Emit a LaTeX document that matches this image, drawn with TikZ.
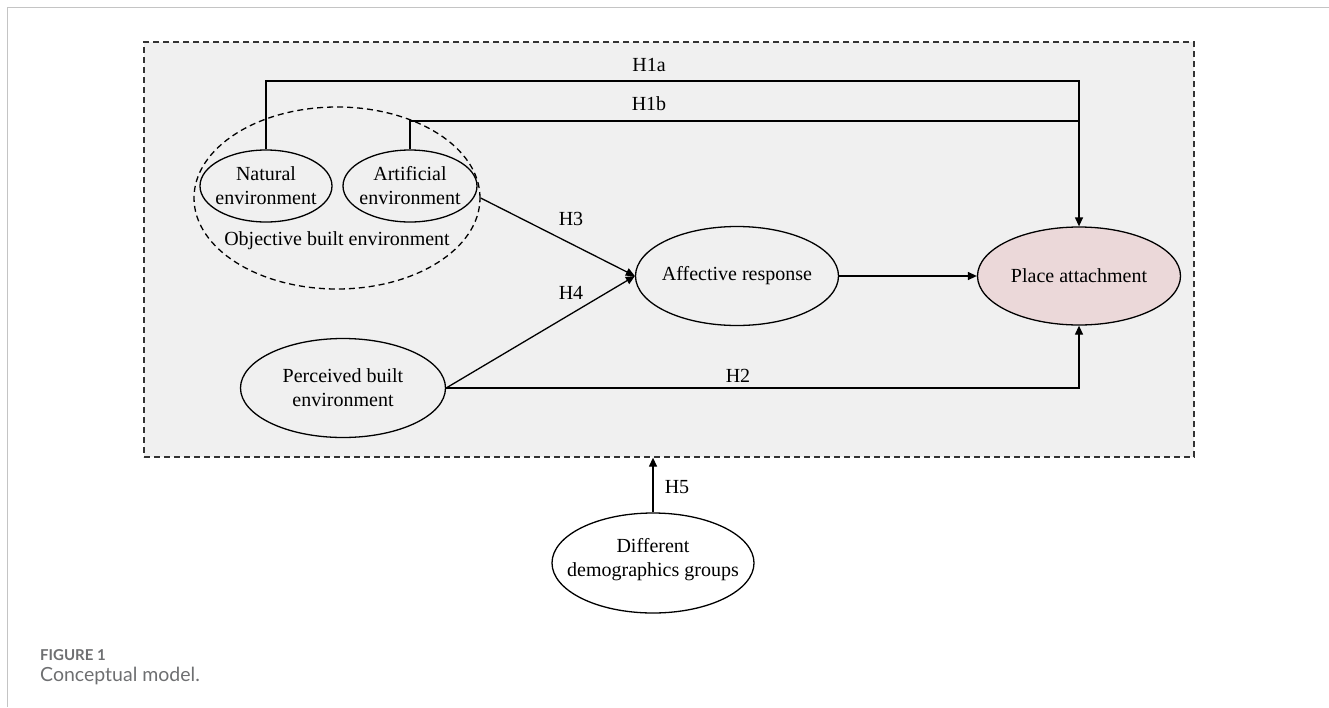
\documentclass[tikz,border=0pt]{standalone}
\usepackage{fontspec}
\setmainfont{Liberation Serif}
\newfontfamily\capfont{Lato}
\usetikzlibrary{shapes.geometric,arrows.meta}
\definecolor{boxgray}{HTML}{F0F0F0}
\definecolor{pinkfill}{HTML}{EBD8D9}
\definecolor{capgray}{HTML}{6E6F71}
\definecolor{framegray}{HTML}{C4C4C4}
\begin{document}
\begin{tikzpicture}[x=1pt,y=-1pt,
 ell/.style={draw=black, ellipse, line width=1.3pt, inner sep=0pt},
 conn/.style={line width=1.3pt, draw=black},
 arr/.style={conn, -{Triangle[length=9pt,width=8pt]}},
 txt/.style={font=\fontsize{20}{24}\selectfont, align=center, inner sep=0pt},
 hlab/.style={font=\fontsize{20}{24}\selectfont, inner sep=0pt},
]
\useasboundingbox (0,0) rectangle (1329,707);
\draw[framegray, line width=1pt] (1329,7) -- (7,7) -- (7,707);
\node[draw=black!80, fill=boxgray, line width=1.3pt, dash pattern=on 6pt off 4pt,
  minimum width=1050pt, minimum height=415pt, inner sep=0pt] (box) at (669,249.5) {};

% objective built environment
\node[ell, dash pattern=on 6pt off 4pt, minimum width=286pt, minimum height=182pt] (obj) at (337,198) {};
\node[txt] (objt) at (337,241) {Objective built environment};
\node[ell, fill=boxgray, minimum width=132pt, minimum height=72pt] (nat) at (266,186) {};
\node[txt] (natt) at (nat) {Natural\\environment};
\node[ell, fill=boxgray, minimum width=134pt, minimum height=72pt] (art) at (410,186) {};
\node[txt] (artt) at (art) {Artificial\\environment};

\node[ell, minimum width=203pt, minimum height=99pt] (aff) at (737,276) {};
\node[txt] (afft) at (aff) {Affective response};
\node[ell, fill=pinkfill, minimum width=203pt, minimum height=98pt] (pla) at (1079,276) {};
\node[txt] (plat) at (pla) {Place attachment};
\node[ell, minimum width=205pt, minimum height=99pt] (per) at (343,388) {};
\node[txt] (pert) at (per) {Perceived built\\environment};
\node[ell, fill=white, minimum width=202pt, minimum height=100pt] (dem) at (653,563) {};
\node[txt] (demt) at (653,560) {Different\\demographics groups};

\coordinate (h1a) at (0,81);
\coordinate (h1b) at (0,121);
\draw[arr] (nat.north) -- (nat.north |- h1a) -| (pla.north);
\draw[conn] (art.north) -- (art.north |- h1b) -- (pla.north |- h1b);
\draw[arr] (obj.east) -- (aff.west);
\draw[arr] (per.east) -- (aff.west);
\draw[arr] (aff.east) -- (pla.west);
\draw[arr] (per.east) -| (pla.south);
\draw[arr] (dem.north) -- (dem.north |- box.south);

\node[hlab] (l1a) at (649,65) {H1a};
\node[hlab] (l1b) at (649,104) {H1b};
\node[hlab] (l3) at (571,219) {H3};
\node[hlab] (l4) at (571,293) {H4};
\node[hlab] (l2) at (738,376) {H2};
\node[hlab] (l5) at (677,487) {H5};

\node[anchor=base west, inner sep=0pt, text=capgray, font=\capfont\bfseries\fontsize{15}{18}\selectfont] (fig) at (40,660) {FIGURE 1};
\node[anchor=base west, inner sep=0pt, text=capgray, font=\capfont\fontsize{19.5}{23}\selectfont] (cap) at (40,681) {Conceptual model.};
\end{tikzpicture}
\end{document}
